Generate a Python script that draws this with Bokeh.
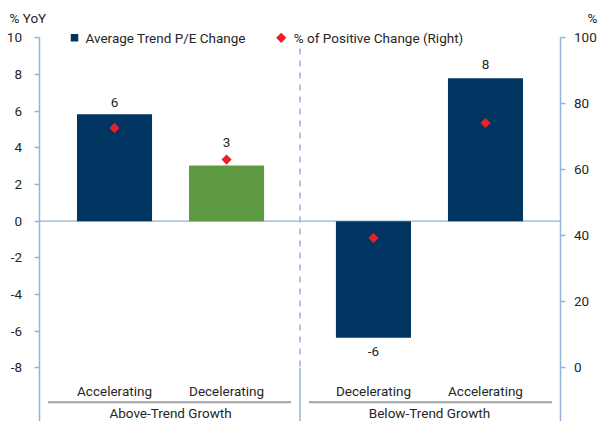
import math
from bokeh.plotting import figure
from bokeh.models import (FactorRange, Range1d, LinearAxis, FixedTicker,
                          ColumnDataSource, LabelSet)
from bokeh.embed import file_html
from bokeh.resources import INLINE
from bokeh.core.properties import value

# ---------------- data ----------------
groups = ["Above-Trend Growth", "Above-Trend Growth", "Below-Trend Growth", "Below-Trend Growth"]
phases = ["Accelerating", "Decelerating", "Decelerating", "Accelerating"]
pe_change = [5.83, 3.04, -6.36, 7.8]          # Average Trend P/E Change (% YoY, left)
pct_positive = [72.7, 63.1, 39.3, 74.2]       # % of Positive Change (right)
bar_colors = ["#003461", "#5e9a42", "#003461", "#003461"]
left_ticks = [-8, -6, -4, -2, 0, 2, 4, 6, 8, 10]
right_ticks = [0, 20, 40, 60, 80, 100]
group_names = ["Above-Trend Growth", "Below-Trend Growth"]
legend_labels = ["Average Trend P/E Change", "% of Positive Change (Right)"]
left_unit, right_unit = "% YoY", "%"

# ---------------- style / layout ----------------
FONT = "Roboto"
FS = "13.5px"
TXT = "#262626"
AXIS_BLUE = "#95b3d7"
NAVY = "#003461"
RED = "#e8202a"
GRAY = "#a0a0a0"

W, H = 599, 421
G = 0.311                    # gap between the two groups (factor units)
PAD_IN = 0.174               # padding between axis and first/last bar slot
PX_PER_X = 112.04
SIDE_PAD = PAD_IN + 38.5 / PX_PER_X   # absolute range padding per side
X0 = -SIDE_PAD               # synthetic x at the canvas left
AX_L = -PAD_IN               # synthetic x of left axis
AX_R = 4 + G + PAD_IN        # synthetic x of right axis

PX_PER_Y = 330.0 / 18.0
Y10_PX = 37.3
y_end = 10 + Y10_PX / PX_PER_Y
y_start = y_end - H / PX_PER_Y
to_right = lambda v: (v + 8) * 100.0 / 18.0
r_start, r_end = to_right(y_start), to_right(y_end)

def xv(px):
    return X0 + px / PX_PER_X

def yv(py):
    return 10 - (py - Y10_PX) / PX_PER_Y

cats = list(zip(groups, phases))
labels = ["%d" % round(v) for v in pe_change]
label_off = [12, 23, -14, 14]

src = ColumnDataSource(dict(cat=cats, pe=pe_change, pct=pct_positive,
                            color=bar_colors, lbl=labels, yoff=label_off))

xr = FactorRange(*cats, group_padding=G, factor_padding=0,
                 range_padding=SIDE_PAD, range_padding_units="absolute")

p = figure(width=W, height=H, x_range=xr, y_range=Range1d(y_start, y_end),
           output_backend="svg", toolbar_location=None, x_axis_location=None,
           min_border_left=0, min_border_right=0, min_border_top=0,
           min_border_bottom=0, outline_line_color=None,
           background_fill_color="white", border_fill_color="white")
for g in p.grid:
    g.visible = False
p.extra_y_ranges = {"right": Range1d(r_start, r_end)}

def style_axis(ax, standoff):
    ax.axis_line_color = AXIS_BLUE
    ax.axis_line_width = 1.5
    ax.major_tick_line_color = AXIS_BLUE
    ax.major_tick_line_width = 1.5
    ax.major_tick_out = 5
    ax.major_tick_in = 0
    ax.minor_tick_out = 0
    ax.minor_tick_in = 0
    ax.major_label_standoff = standoff
    ax.major_label_text_font = FONT
    ax.major_label_text_font_size = FS
    ax.major_label_text_color = TXT

ly = p.yaxis[0]
ly.ticker = FixedTicker(ticks=left_ticks)
ly.bounds = (y_start, 10)
ly.fixed_location = AX_L
ly.major_label_overrides = {t: str(t) for t in left_ticks}
style_axis(ly, 12)

ry = LinearAxis(y_range_name="right", ticker=FixedTicker(ticks=right_ticks),
                bounds=(r_start, 100), fixed_location=AX_R)
ry.major_label_overrides = {t: str(t) for t in right_ticks}
style_axis(ry, 8)
p.add_layout(ry, "right")

# zero line between the axes
p.segment(x0=[AX_L], y0=[0], x1=[AX_R], y1=[0], line_color=AXIS_BLUE, line_width=1.3)

# group separator
SEP = 2 + G / 2
p.segment(x0=[SEP], y0=[yv(48)], x1=[SEP], y1=[-8], line_color=AXIS_BLUE,
          line_width=1.5, line_dash="6 6")
p.segment(x0=[SEP], y0=[-8], x1=[SEP], y1=[y_start], line_color=AXIS_BLUE, line_width=1.5)

# bars and markers
p.vbar(x="cat", top="pe", bottom=0, width=0.67, fill_color="color",
       line_color=None, source=src)
p.scatter(x="cat", y="pct", y_range_name="right", marker="square",
          angle=math.pi / 4, size=7.2, fill_color=RED, line_color=None, source=src)

p.add_layout(LabelSet(x="cat", y="pe", text="lbl", y_offset="yoff", source=src,
                      text_align="center", text_baseline="middle",
                      text_font=value(FONT), text_font_size=value(FS),
                      text_color=value(TXT)))

# category labels
p.text(x=cats, y=[yv(390)] * 4, text=phases, text_align="center",
       text_baseline="middle", text_font=value(FONT), text_font_size=value(FS),
       text_color=TXT)

# group lines and labels
gpad = 9 / PX_PER_X
g_line_y = yv(401.7)
p.segment(x0=[AX_L + gpad, SEP + gpad], y0=[g_line_y] * 2,
          x1=[SEP - gpad, AX_R - gpad], y1=[g_line_y] * 2,
          line_color=GRAY, line_width=2)
g_centers = [1.0, 3 + G]
p.text(x=g_centers, y=[yv(412)] * 2, text=group_names, text_align="center",
       text_baseline="middle", text_font=value(FONT), text_font_size=value(FS),
       text_color=TXT)

# legend (manual)
p.scatter(x=[xv(74)], y=[10], marker="square", size=7.5, fill_color=NAVY, line_color=None)
p.scatter(x=[xv(280.7)], y=[10], marker="square", angle=math.pi / 4, size=7.2,
          fill_color=RED, line_color=None)
p.text(x=[xv(85), xv(293.3)], y=[10, 10], text=legend_labels, text_align="left",
       text_baseline="middle", text_font=value(FONT), text_font_size=value(FS),
       text_color=TXT)

# axis unit labels
p.text(x=[xv(9)], y=[yv(17)], text=[left_unit], text_align="left",
       text_baseline="middle", text_font=value(FONT), text_font_size=value(FS),
       text_color=TXT)
p.text(x=[xv(597)], y=[yv(17.5)], text=[right_unit], text_align="right",
       text_baseline="middle", text_font=value(FONT), text_font_size=value(FS),
       text_color=TXT)

open("out.html", "w").write(file_html(p, INLINE))
